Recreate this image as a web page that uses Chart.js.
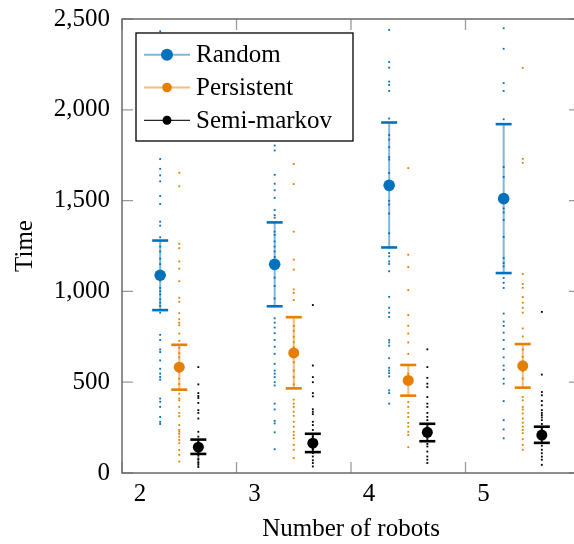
<!DOCTYPE html>
<html>
<head>
<meta charset="utf-8">
<script src="https://cdn.jsdelivr.net/npm/chart.js@4"></script>
<style>
    html, body { margin: 0; padding: 0; background: #fff; overflow: hidden; }
    #wrap { width: 600px; height: 544px; }
</style>
</head>
<body>
<div id="wrap"><canvas id="chart" width="600" height="544"></canvas></div>
<script>
// Number of robots on the x axis, one group of three series per value
const robots = [2, 3, 4, 5];
const yTicks = [0, 500, 1000, 1500, 2000, 2500];

// Mean and error bar ends per group
const randomMean = [1089, 1149, 1584, 1511];
const randomLow = [897, 918, 1242, 1101];
const randomHigh = [1280, 1380, 1930, 1921];

const persistentMean = [583, 661, 510, 590];
const persistentLow = [459, 466, 426, 470];
const persistentHigh = [706, 858, 595, 710];

const semiMean = [142, 164, 224, 209];
const semiLow = [105, 115, 175, 166];
const semiHigh = [184, 216, 271, 255];

// Individual runs per group
const randomSamples = [
    [2432, 1729, 1675, 1639, 1606, 1526, 1481, 1384, 1362, 1298, 1247, 1220, 1180, 1150, 1060, 1019, 1001, 983, 956, 938, 920, 883, 761, 733, 680, 666, 620, 574, 547, 529, 514, 410, 392, 364, 309, 282, 270],
    [1803, 1776, 1642, 1593, 1557, 1515, 1448, 1420, 1406, 1329, 1311, 1275, 1247, 1220, 1190, 1076, 1030, 961, 852, 828, 801, 770, 733, 695, 656, 601, 564, 547, 528, 500, 482, 382, 350, 287, 273, 224, 131],
    [2440, 2263, 2232, 2155, 2137, 2104, 1952, 1861, 1836, 1794, 1739, 1726, 1652, 1499, 1479, 1429, 1320, 1211, 1193, 1165, 1151, 1111, 970, 910, 883, 859, 732, 719, 701, 632, 579, 564, 550, 532, 455, 440, 382],
    [2449, 2336, 2147, 2104, 1948, 1685, 1630, 1457, 1435, 1393, 1300, 1184, 1156, 1138, 1074, 1047, 1019, 878, 834, 810, 773, 732, 683, 637, 592, 568, 519, 492, 396, 291, 240, 191]
];
const persistentSamples = [
    [1653, 1579, 1262, 1238, 1165, 1125, 1056, 965, 943, 880, 847, 828, 814, 768, 728, 690, 660, 637, 600, 555, 519, 490, 437, 410, 400, 364, 331, 313, 264, 237, 227, 215, 200, 182, 164, 127, 100, 63],
    [1702, 1591, 1329, 1175, 1120, 1011, 992, 952, 810, 783, 750, 720, 692, 640, 610, 564, 528, 488, 404, 382, 364, 337, 315, 282, 255, 227, 209, 191, 155, 128, 82],
    [1679, 1202, 1134, 1007, 870, 811, 768, 719, 656, 546, 391, 364, 331, 309, 276, 255, 227, 209, 142],
    [2231, 1730, 1708, 1096, 1041, 1020, 969, 938, 910, 883, 796, 752, 680, 640, 560, 520, 419, 400, 364, 350, 328, 300, 277, 255, 237, 219, 186, 155, 128]
];
const semiSamples = [
    [583, 488, 440, 424, 413, 386, 346, 331, 300, 227, 200, 170, 150, 130, 120, 95, 80, 73, 60, 55, 45, 33],
    [925, 592, 528, 500, 440, 422, 351, 337, 324, 282, 264, 237, 200, 190, 150, 130, 110, 91, 70, 55, 36],
    [681, 583, 524, 492, 473, 418, 382, 364, 331, 309, 291, 250, 240, 200, 160, 146, 118, 91, 73, 55],
    [887, 542, 446, 428, 397, 373, 346, 331, 319, 306, 291, 270, 240, 230, 190, 150, 128, 109, 90, 73, 45]
];

const series = [
    { label: 'Random', color: '#0072BD', bar: 'rgba(0, 114, 189, 0.5)', offset: 1 / 3, radius: 5.8, legendRadius: 6,
      mean: randomMean, low: randomLow, high: randomHigh, samples: randomSamples },
    { label: 'Persistent', color: '#E67E00', bar: 'rgba(230, 126, 0, 0.5)', offset: 1 / 2, radius: 5.5, legendRadius: 4.8,
      mean: persistentMean, low: persistentLow, high: persistentHigh, samples: persistentSamples },
    { label: 'Semi-markov', color: '#000000', bar: 'rgba(0, 0, 0, 0.85)', offset: 2 / 3, radius: 5.5, legendRadius: 4.5,
      mean: semiMean, low: semiLow, high: semiHigh, samples: semiSamples }
];

Chart.defaults.font.family = '"Liberation Serif", "Times New Roman", serif';
Chart.defaults.font.size = 25;
Chart.defaults.color = '#000';

const datasets = [];
series.forEach(s => {
    // mean markers on top
    datasets.push({
        type: 'scatter',
        label: s.label,
        legendLine: s.bar,
        legendRadius: s.legendRadius,
        data: robots.map((r, i) => ({ x: r + s.offset, y: s.mean[i] })),
        backgroundColor: s.color,
        borderWidth: 0,
        pointRadius: s.radius,
        order: 0
    });
    // error bars: vertical line plus horizontal caps
    const barData = [];
    robots.forEach((r, i) => {
        barData.push({ x: r + s.offset, y: s.low[i] });
        barData.push({ x: r + s.offset, y: s.high[i] });
        barData.push({ x: r + s.offset, y: null });
    });
    datasets.push({
        type: 'line',
        data: barData,
        borderColor: s.bar,
        borderWidth: 2,
        spanGaps: false,
        pointStyle: 'line',
        pointRadius: 8,
        pointBorderWidth: 2.6,
        pointBorderColor: s.color,
        pointBackgroundColor: s.color,
        order: 1
    });
    // individual runs
    const dots = [];
    robots.forEach((r, i) => {
        s.samples[i].forEach(v => dots.push({ x: r + s.offset, y: v }));
    });
    datasets.push({
        type: 'scatter',
        data: dots,
        backgroundColor: s.color,
        borderWidth: 0,
        pointStyle: 'rect',
        pointRadius: 1.3,
        order: 2
    });
});

// Frame with inward ticks on all four sides
const framePlugin = {
    id: 'frame',
    afterDatasetsDraw(chart) {
        const { ctx, chartArea: a, scales: { x, y } } = chart;
        ctx.save();
        ctx.strokeStyle = '#9a9a9a';
        ctx.lineWidth = 1.3;
        ctx.beginPath();
        robots.forEach(r => {
            const px = x.getPixelForValue(r);
            ctx.moveTo(px, a.bottom);
            ctx.lineTo(px, a.bottom - 11);
            ctx.moveTo(px, a.top);
            ctx.lineTo(px, a.top + 11);
        });
        yTicks.forEach(v => {
            const py = y.getPixelForValue(v);
            ctx.moveTo(a.left, py);
            ctx.lineTo(a.left + 11, py);
            ctx.moveTo(a.right, py);
            ctx.lineTo(a.right - 11, py);
        });
        ctx.stroke();
        ctx.strokeStyle = '#6a6a6a';
        ctx.lineWidth = 1.5;
        ctx.strokeRect(a.left, a.top, a.right - a.left, a.bottom - a.top);
        ctx.restore();
    }
};

// Boxed legend inside the plot, top left
const legendPlugin = {
    id: 'boxLegend',
    afterDraw(chart) {
        const { ctx, chartArea: a } = chart;
        const left = a.left + 14, top = a.top + 14, w = 217, h = 108;
        ctx.save();
        ctx.fillStyle = '#fff';
        ctx.fillRect(left, top, w, h);
        ctx.strokeStyle = '#000';
        ctx.lineWidth = 1.3;
        ctx.strokeRect(left, top, w, h);
        const means = chart.data.datasets.filter(d => d.label);
        means.forEach((d, i) => {
            const cy = top + 21.7 + i * 32.8;
            ctx.strokeStyle = d.legendLine;
            ctx.lineWidth = i === 2 ? 1.2 : 2;
            ctx.beginPath();
            ctx.moveTo(left + 8, cy);
            ctx.lineTo(left + 54, cy);
            ctx.stroke();
            ctx.fillStyle = d.backgroundColor;
            ctx.beginPath();
            ctx.arc(left + 31, cy, d.legendRadius, 0, Math.PI * 2);
            ctx.fill();
            ctx.fillStyle = '#000';
            ctx.font = '25px "Liberation Serif", serif';
            ctx.textBaseline = 'middle';
            ctx.fillText(d.label, left + 60, cy + 1);
        });
        ctx.restore();
    }
};

new Chart(document.getElementById('chart').getContext('2d'), {
    type: 'scatter',
    data: { datasets: datasets },
    options: {
        responsive: false,
        animation: false,
        devicePixelRatio: 1,
        layout: { padding: { top: 3, right: 20, left: 0, bottom: 0 } },
        plugins: {
            legend: { display: false },
            tooltip: { enabled: false }
        },
        scales: {
            x: {
                type: 'linear',
                min: 2,
                max: 6,
                grid: { display: false },
                border: { display: false },
                ticks: {
                    stepSize: 1,
                    padding: -2,
                    labelOffset: 18,
                    callback: v => (v === 6 ? '' : String(v))
                },
                title: { display: true, text: 'Number of robots', padding: { top: 4, bottom: 0 } },
                afterFit: scale => { scale.height = 71; }
            },
            y: {
                type: 'linear',
                min: 0,
                max: 2500,
                grid: { display: false },
                border: { display: false },
                ticks: {
                    stepSize: 500,
                    padding: 4,
                    callback: v => v.toLocaleString('en-US')
                },
                title: { display: true, text: 'Time', padding: { top: 10, bottom: 0 } },
                afterFit: scale => { scale.width = 122; }
            }
        }
    },
    plugins: [framePlugin, legendPlugin]
});
</script>
</body>
</html>
